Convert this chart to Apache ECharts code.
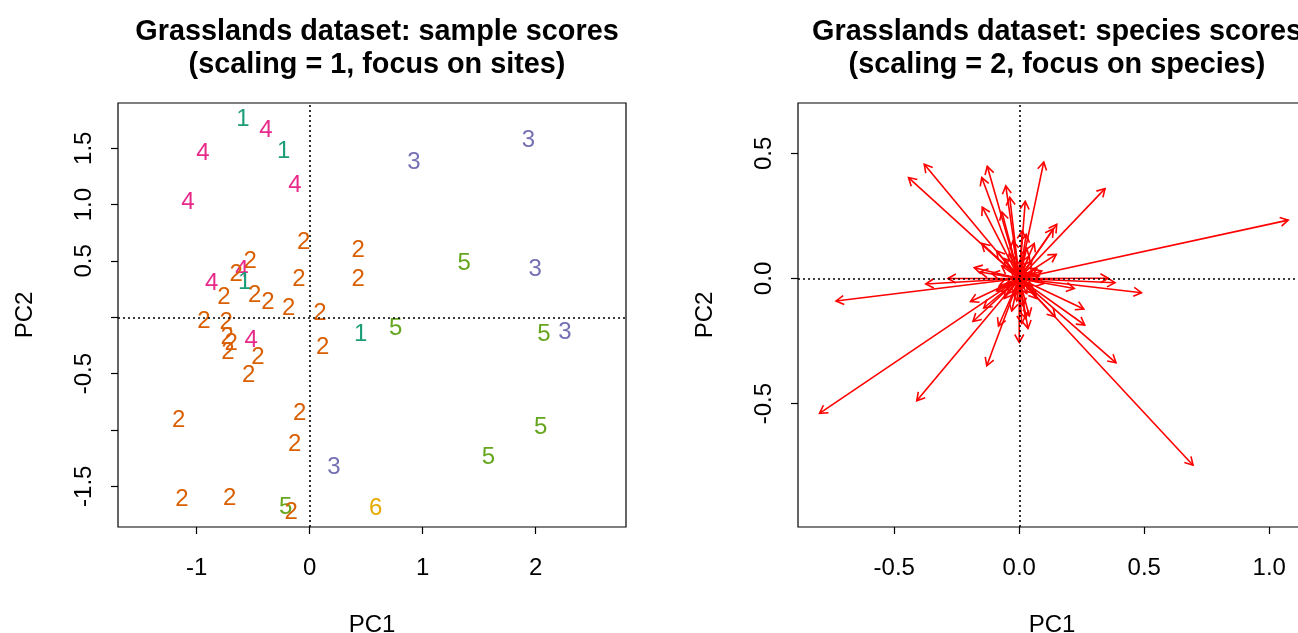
<!DOCTYPE html>
<html>
<head>
<meta charset="utf-8">
<script src="https://cdn.jsdelivr.net/npm/echarts@6/dist/echarts.min.js"></script>
<style>
html,body{margin:0;padding:0;background:#fff;}
#chart{width:1298px;height:633px;}
</style>
</head>
<body>
<div id="chart"></div>
<script>
// ---- Left panel: site scores (label = group) ----
var siteX = [-0.590,-0.387,-0.230,-0.944,-0.130,-1.077,-0.053,-0.526,-0.599,-0.650,-0.575,-0.095,-0.867,-0.758,-0.487,-0.369,-0.186,-0.935,-0.738,-0.729,-0.694,-0.723,-0.517,-0.458,-0.540,-1.159,-0.088,-0.133,-1.130,-0.708,-0.212,-0.163,0.923,1.935,0.430,0.430,1.368,1.996,0.091,0.115,0.451,0.761,2.073,2.259,2.044,1.581,0.215,0.584];
var siteY = [1.757,1.662,1.476,1.455,1.173,1.016,0.669,0.492,0.418,0.382,0.314,0.338,0.305,0.175,0.196,0.136,0.077,-0.033,-0.047,-0.175,-0.228,-0.308,-0.204,-0.358,-0.516,-0.916,-0.856,-1.129,-1.620,-1.612,-1.692,-1.731,1.372,1.567,0.596,0.335,0.477,0.424,0.036,-0.269,-0.154,-0.100,-0.154,-0.136,-0.975,-1.247,-1.336,-1.695];
var siteGroup = [1,4,1,4,4,4,2,2,4,2,1,2,4,2,2,2,2,2,2,2,2,2,4,2,2,2,2,2,2,2,5,2,3,3,2,2,5,3,2,2,1,5,5,3,5,5,3,6];
var groupColors = ['#1B9E77','#D95F02','#7570B3','#E7298A','#66A61E','#E6AB02'];

// ---- Right panel: species scores (arrows from origin) ----
var spX = [-0.380,-0.443,-0.128,-0.150,-0.054,-0.038,-0.148,-0.069,0.024,0.098,-0.150,0.012,0.028,-0.733,-0.374,-0.285,-0.180,0.343,0.150,0.136,1.076,0.148,0.383,0.356,0.489,0.220,0.258,0.262,0.144,0.387,0.695,-0.799,-0.410,-0.130,0.000,-0.185,-0.195,-0.142,-0.083,0.035,-0.060,0.050,-0.045,0.070,0.030,-0.025,0.090,-0.110,0.015,-0.080,0.100,0.060,-0.090,0.040,-0.030,-0.157,
  0.020,-0.030,0.050,-0.050,0.030,-0.020,0.070,-0.070,0.010,0.060,-0.060,0.080,-0.040,0.040,-0.010,0.050,-0.020,0.030,-0.090,0.020,0.010,0.025];
var spY = [0.456,0.403,0.448,0.403,0.370,0.324,0.285,0.265,0.308,0.465,0.140,0.190,0.176,-0.090,-0.022,0.000,0.043,0.359,0.216,0.198,0.233,0.096,-0.017,0.001,-0.057,-0.040,-0.122,-0.186,-0.153,-0.337,-0.746,-0.539,-0.489,-0.349,-0.255,-0.172,-0.092,-0.118,-0.190,-0.200,0.080,0.070,-0.060,-0.080,0.120,0.150,0.030,0.020,-0.110,-0.030,-0.020,0.140,0.110,-0.150,-0.130,0.026,
  0.050,0.040,-0.030,-0.020,-0.060,-0.070,0.040,0.050,0.080,-0.060,-0.080,0.010,0.100,0.090,-0.090,0.020,0.030,0.020,-0.050,-0.040,-0.180,-0.160];

// ---- Axes ----
var leftXRange = [-1.696, 2.799];
var leftYRange = [-1.862, 1.902];
var rightXRange = [-0.885, 1.147];
var rightYRange = [-0.993, 0.701];
var leftXTicks = [-1, 0, 1, 2];
var leftYTicks = [-1.5, -1, -0.5, 0, 0.5, 1, 1.5];
var leftYLabels = [-1.5, -0.5, 0.5, 1, 1.5];
var rightXTicks = [-0.5, 0, 0.5, 1];
var rightYTicks = [-0.5, 0, 0.5];

var titles = [
  'Grasslands dataset: sample scores\n(scaling = 1, focus on sites)',
  'Grasslands dataset: species scores\n(scaling = 2, focus on species)'
];

var FONT = "'Liberation Sans', Arial, sans-serif";

function fmtX(v){ return Number.isInteger(v) ? String(v) : v.toFixed(1); }
function fmt1(v){ return v.toFixed(1); }

function xAxisDef(gi, range, ticks, labels, fmt){
  return {
    type:'value', gridIndex:gi, min:range[0], max:range[1],
    name:'PC1', nameLocation:'middle', nameGap:86,
    nameTextStyle:{fontSize:24, color:'#000', fontFamily:FONT},
    axisLine:{show:false, onZero:false},
    splitLine:{show:false},
    axisTick:{show:true, inside:false, length:7, lineStyle:{color:'#000', width:1.2}, customValues:ticks},
    axisLabel:{show:true, margin:29, fontSize:24, color:'#000', fontFamily:FONT, customValues:labels, formatter:fmt}
  };
}
function yAxisDef(gi, range, ticks, labels, fmt){
  return {
    type:'value', gridIndex:gi, min:range[0], max:range[1],
    name:'PC2', nameLocation:'middle', nameGap:81,
    nameTextStyle:{fontSize:24, color:'#000', fontFamily:FONT},
    axisLine:{show:false, onZero:false},
    splitLine:{show:false},
    axisTick:{show:true, inside:false, length:7, lineStyle:{color:'#000', width:1.2}, customValues:ticks},
    axisLabel:{show:true, margin:22, rotate:90, fontSize:24, color:'#000', fontFamily:FONT, customValues:labels, formatter:fmt}
  };
}

var siteData = siteX.map(function(x,i){ return [x, siteY[i], siteGroup[i]]; });
var spData = spX.map(function(x,i){ return [x, spY[i]]; });

function zeroLines(xi, yi){
  return {
    type:'line', xAxisIndex:xi, yAxisIndex:yi, data:[[0,0]], showSymbol:false,
    lineStyle:{opacity:0}, silent:true,
    markLine:{
      silent:true, symbol:['none','none'], label:{show:false},
      lineStyle:{color:'#000', type:[2,3], width:1.6},
      emphasis:{disabled:true},
      data:[{xAxis:0},{yAxis:0}]
    }
  };
}

var option = {
  animation:false,
  backgroundColor:'#fff',
  title:[
    {text:titles[0], left:372, top:11, textAlign:'center',
     textStyle:{fontSize:28.8, fontWeight:'bold', color:'#000', fontFamily:FONT, lineHeight:33}},
    {text:titles[1], left:1052, top:11, textAlign:'center',
     textStyle:{fontSize:28.8, fontWeight:'bold', color:'#000', fontFamily:FONT, lineHeight:33}}
  ],
  grid:[
    {left:118, top:103, width:508, height:424, show:true, borderColor:'#000', borderWidth:1.2, backgroundColor:'transparent', containLabel:false, outerBoundsMode:'none'},
    {left:798, top:103, width:508, height:424, show:true, borderColor:'#000', borderWidth:1.2, backgroundColor:'transparent', containLabel:false, outerBoundsMode:'none'}
  ],
  xAxis:[
    xAxisDef(0, leftXRange, leftXTicks, leftXTicks, fmtX),
    xAxisDef(1, rightXRange, rightXTicks, rightXTicks, fmt1)
  ],
  yAxis:[
    yAxisDef(0, leftYRange, leftYTicks, leftYLabels, fmt1),
    yAxisDef(1, rightYRange, rightYTicks, rightYTicks, fmt1)
  ],
  series:[
    zeroLines(0,0),
    zeroLines(1,1),
    {
      type:'custom', xAxisIndex:0, yAxisIndex:0, data:siteData, silent:true,
      encode:{x:0, y:1},
      renderItem:function(params, api){
        var p = api.coord([api.value(0), api.value(1)]);
        var g = api.value(2);
        return {type:'text', x:p[0], y:p[1],
          style:{text:String(g), fill:groupColors[g-1], font:'24px ' + FONT, align:'center', verticalAlign:'middle'}};
      }
    },
    {
      type:'custom', xAxisIndex:1, yAxisIndex:1, data:spData, silent:true,
      encode:{x:0, y:1},
      renderItem:function(params, api){
        var p0 = api.coord([0,0]);
        var p1 = api.coord([api.value(0), api.value(1)]);
        var ang = Math.atan2(p1[1]-p0[1], p1[0]-p0[0]);
        var L = 9, a = Math.PI/6;
        var h1 = [p1[0]-L*Math.cos(ang-a), p1[1]-L*Math.sin(ang-a)];
        var h2 = [p1[0]-L*Math.cos(ang+a), p1[1]-L*Math.sin(ang+a)];
        return {type:'group', children:[
          {type:'line', shape:{x1:p0[0], y1:p0[1], x2:p1[0], y2:p1[1]}, style:{stroke:'#FF0000', lineWidth:1.6}},
          {type:'polyline', shape:{points:[h1, p1, h2]}, style:{stroke:'#FF0000', fill:null, lineWidth:1.6}}
        ]};
      }
    }
  ]
};

var chart = echarts.init(document.getElementById('chart'), null, {renderer:'canvas'});
chart.setOption(option);
</script>
</body>
</html>
